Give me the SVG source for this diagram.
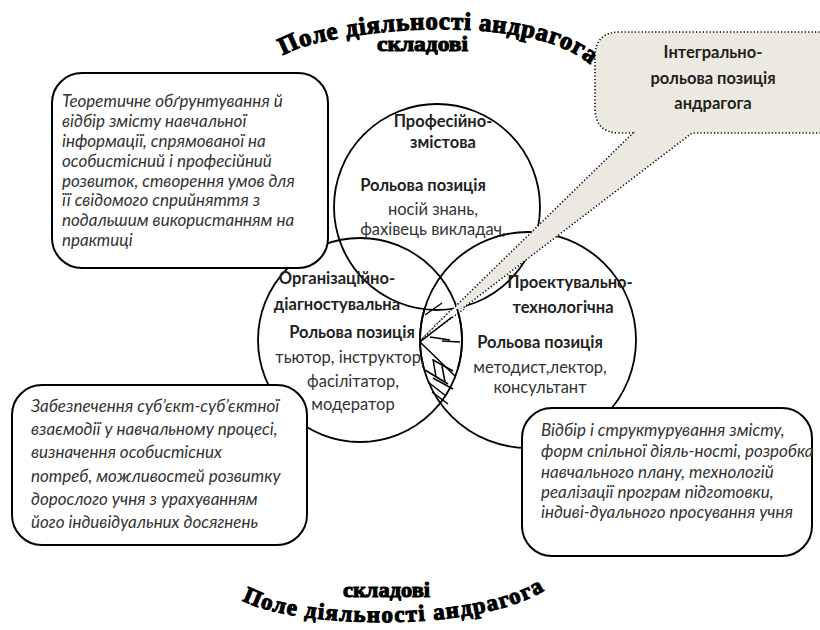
<svg xmlns="http://www.w3.org/2000/svg" width="820" height="630" viewBox="0 0 820 630">
<style>
.circ{fill:none;stroke:#000;stroke-width:1.8}
.box{fill:#fff;stroke:#000;stroke-width:2}
.hd{font-family:Lato,"Noto Sans",sans-serif;font-weight:bold;font-size:16.5px;fill:#222;text-anchor:middle}
.rg{font-family:Lato,"Noto Sans",sans-serif;font-size:16.5px;fill:#333;text-anchor:middle}
.it{font-family:Lato,"Noto Sans",sans-serif;font-style:italic;font-size:17px;fill:#333}
.ttl{font-family:"Liberation Serif","DejaVu Serif",serif;font-weight:bold;fill:#000;stroke:#000;stroke-width:1.1;stroke-linejoin:round}
.dot{fill:none;stroke:#000;stroke-width:1.6;stroke-dasharray:1.2 2.2}
.h{stroke:#000;stroke-width:1.5;fill:none}
</style>
<defs>
<path id="arcTop" d="M 283,56 C 320,30 530,8 592,66"/>
<path id="arcBot" d="M 242,600 C 290,628 480,635 548,588"/>
<clipPath id="clipTL"><rect x="52" y="73" width="276" height="177"/></clipPath>
<clipPath id="clipBL"><rect x="12" y="385" width="295" height="147"/></clipPath>
<clipPath id="lensLow"><rect x="400" y="309" width="90" height="60"/></clipPath>
</defs>

<g id="titles">
<text class="ttl" font-size="25"><textPath href="#arcTop" textLength="318" lengthAdjust="spacing">Поле діяльності андрагога</textPath></text>
<text class="ttl" x="377" y="51" font-size="22" textLength="91" lengthAdjust="spacingAndGlyphs">складові</text>
<text class="ttl" x="343" y="597" font-size="22" textLength="87" lengthAdjust="spacingAndGlyphs">складові</text>
<text class="ttl" font-size="23"><textPath href="#arcBot" textLength="310" lengthAdjust="spacing">Поле діяльності андрагога</textPath></text>
</g>

<g id="circles">
<circle id="c-prof" class="circ" cx="437" cy="207" r="103"/>
<circle id="c-org" class="circ" cx="360" cy="340" r="102"/>
<circle id="c-proj" class="circ" cx="528" cy="340" r="108"/>
</g>

<g id="callout">
<path d="M 620,32 H 840 V 133 H 692 L 420,341 L 633,133 H 620 Q 595,133 595,108 V 57 Q 595,32 620,32 Z" fill="#ECEAE0" stroke="none"/>
<path d="M 840,32 H 620 Q 595,32 595,57 V 108 Q 595,133 620,133 H 633 L 420,341 L 692,133 H 840" class="dot"/>
<polygon points="452,309 464,309 420,341" fill="#fff"/>
<g clip-path="url(#lensLow)">
<circle class="circ" cx="360" cy="340" r="102"/>
<circle class="circ" cx="528" cy="340" r="108"/>
<path d="M 452,309 L 420,341 L 464,309" class="dot"/>
</g>
<text class="hd" x="713" y="58" font-size="17.5">Інтегрально-</text>
<text class="hd" x="713" y="84" font-size="17.5">рольова позиція</text>
<text class="hd" x="713" y="109" font-size="17.5">андрагога</text>
</g>

<g id="hatch">
<line class="h" x1="425" y1="315" x2="442" y2="303"/>
<line class="h" x1="420" y1="342" x2="452" y2="317"/>
<line class="h" x1="430" y1="337" x2="450" y2="340"/>
<line class="h" x1="442" y1="341" x2="460" y2="342"/>
<line class="h" x1="420" y1="342" x2="455" y2="376"/>
<line class="h" x1="433" y1="359" x2="436" y2="377"/>
<line class="h" x1="433" y1="360" x2="453" y2="371"/>
<line class="h" x1="442" y1="366" x2="445" y2="382"/>
<line class="h" x1="425" y1="370" x2="448" y2="384"/>
<line class="h" x1="433" y1="378" x2="453" y2="389"/>
<line class="h" x1="428" y1="382" x2="446" y2="396"/>
<line class="h" x1="432" y1="392" x2="448" y2="404"/>
</g>

<g id="n-prof">
<text class="hd" x="443" y="127">Професійно-</text>
<text class="hd" x="443" y="148">змістова</text>
<text class="hd" x="423" y="191">Рольова позиція</text>
<text class="rg" x="433" y="215">носій знань,</text>
<text class="rg" x="433" y="235">фахівець викладач,</text>
</g>

<g id="n-org">
<text class="hd" x="337" y="284">Організаційно-</text>
<text class="hd" x="337" y="310">діагностувальна</text>
<text class="hd" x="352" y="338">Рольова позиція</text>
<text class="rg" x="350" y="363">тьютор, інструктор,</text>
<text class="rg" x="353" y="387">фасілітатор,</text>
<text class="rg" x="353" y="410">модератор</text>
</g>

<g id="n-proj">
<text class="hd" x="570" y="288">Проектувально-</text>
<text class="hd" x="563" y="313">технологічна</text>
<text class="hd" x="540" y="348">Рольова позиція</text>
<text class="rg" x="540" y="373">методист,лектор,</text>
<text class="rg" x="540" y="393">консультант</text>
</g>

<g id="box-theory">
<rect class="box" x="52" y="73" width="276" height="195" rx="30"/>
<g clip-path="url(#clipTL)">
<text class="it" x="62" y="107">Теоретичне обґрунтування й</text>
<text class="it" x="62" y="127">відбір змісту навчальної</text>
<text class="it" x="62" y="147">інформації, спрямованої на</text>
<text class="it" x="62" y="167">особистісний і професійний</text>
<text class="it" x="62" y="187">розвиток, створення умов для</text>
<text class="it" x="62" y="206">її свідомого сприйняття з</text>
<text class="it" x="62" y="226">подальшим використанням на</text>
<text class="it" x="62" y="246">практиці</text>
</g>
</g>

<g id="box-interaction">
<rect class="box" x="12" y="385" width="295" height="160" rx="30"/>
<g clip-path="url(#clipBL)">
<text class="it" x="31" y="412" font-size="18">Забезпечення суб’єкт-суб’єктної</text>
<text class="it" x="31" y="435" font-size="18">взаємодії у навчальному процесі,</text>
<text class="it" x="31" y="458" font-size="18">визначення особистісних</text>
<text class="it" x="31" y="482" font-size="18">потреб, можливостей розвитку</text>
<text class="it" x="31" y="505" font-size="18">дорослого учня з урахуванням</text>
<text class="it" x="31" y="528" font-size="18">його індивідуальних досягнень</text>
</g>
</g>

<g id="box-design">
<rect class="box" x="522" y="408" width="290" height="148" rx="30"/>
<text class="it" x="541" y="436" font-size="16.8">Відбір і структурування змісту,</text>
<text class="it" x="541" y="457" font-size="16.8">форм спільної діяль-ності, розробка</text>
<text class="it" x="541" y="478" font-size="16.8">навчального плану, технологій</text>
<text class="it" x="541" y="498" font-size="16.8">реалізації програм підготовки,</text>
<text class="it" x="541" y="518" font-size="16.8">індиві-дуального просування учня</text>
</g>
</svg>
